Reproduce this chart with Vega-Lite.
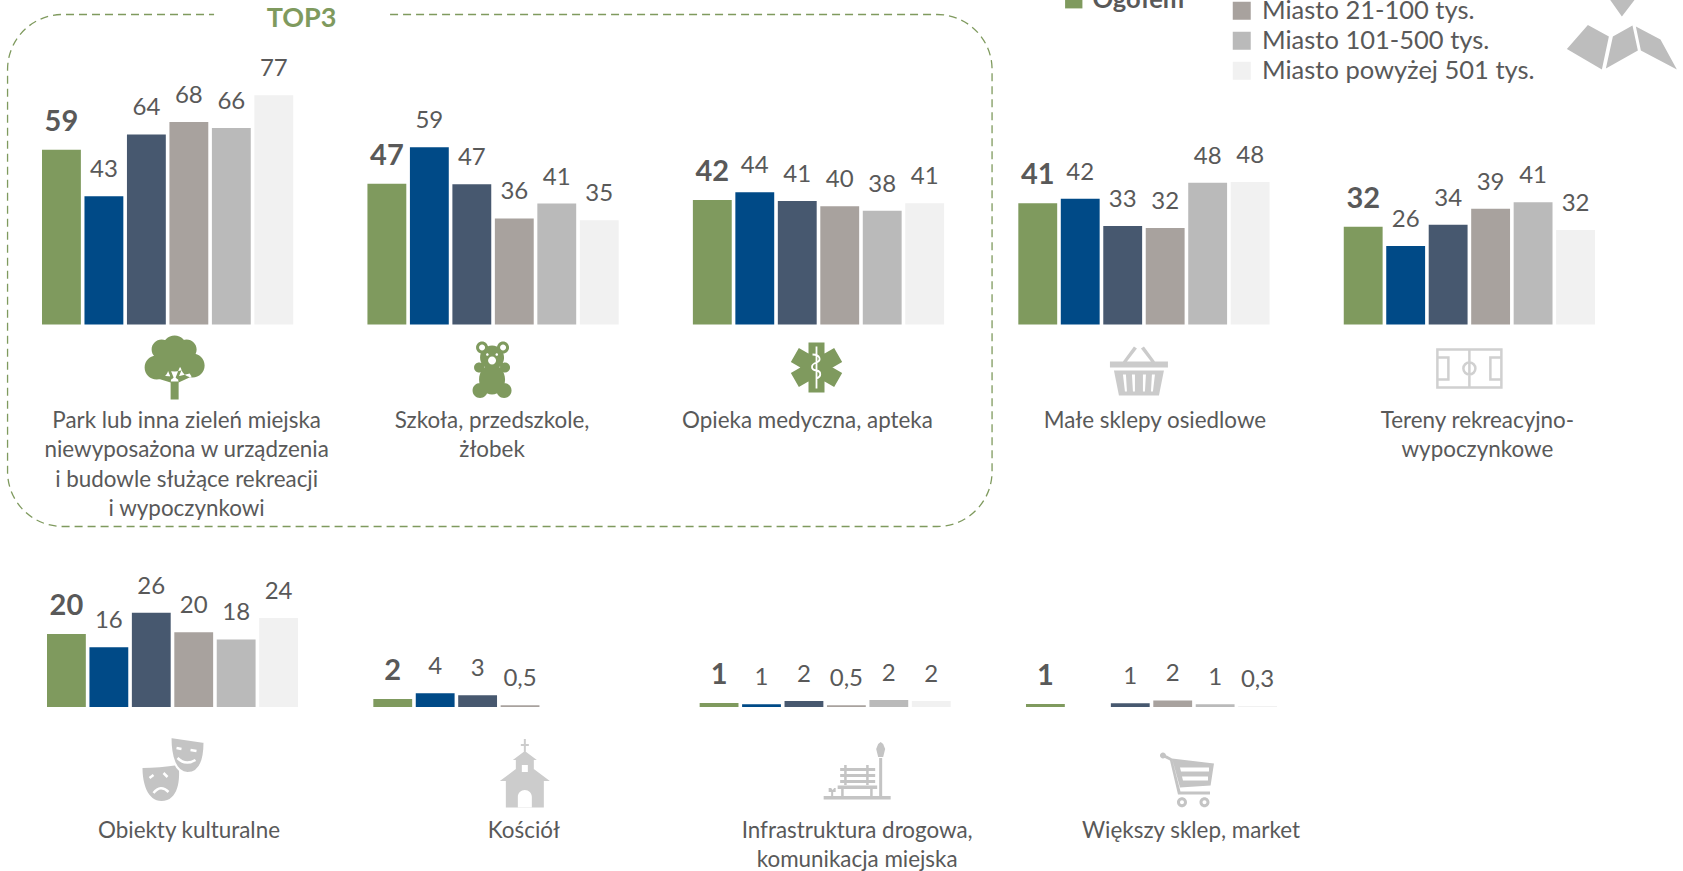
{"$schema":"https://vega.github.io/schema/vega-lite/v6.json","width":1683,"height":871,"autosize":{"type":"none"},"padding":0,"background":"white",
"config":{"view":{"stroke":null},"axis":{"disable":true},"font":"Lato","text":{"font":"Lato"},"legend":{"padding":0}},
"datasets":{"top":[
{"group":"Park","city":"Ogółem","value":58.8,"label":"59"},{"group":"Park","city":"Wieś","value":43.2,"label":"43"},{"group":"Park","city":"Miasto do 20 tys.","value":64,"label":"64"},{"group":"Park","city":"Miasto 21-100 tys.","value":68.2,"label":"68"},{"group":"Park","city":"Miasto 101-500 tys.","value":66.2,"label":"66"},{"group":"Park","city":"Miasto powyżej 501 tys.","value":77.2,"label":"77"},
{"group":"Szkoła","city":"Ogółem","value":47.4,"label":"47"},{"group":"Szkoła","city":"Wieś","value":59.7,"label":"59"},{"group":"Szkoła","city":"Miasto do 20 tys.","value":47.2,"label":"47"},{"group":"Szkoła","city":"Miasto 21-100 tys.","value":35.7,"label":"36"},{"group":"Szkoła","city":"Miasto 101-500 tys.","value":40.7,"label":"41"},{"group":"Szkoła","city":"Miasto powyżej 501 tys.","value":35.1,"label":"35"},
{"group":"Opieka","city":"Ogółem","value":41.9,"label":"42"},{"group":"Opieka","city":"Wieś","value":44.5,"label":"44"},{"group":"Opieka","city":"Miasto do 20 tys.","value":41.6,"label":"41"},{"group":"Opieka","city":"Miasto 21-100 tys.","value":39.8,"label":"40"},{"group":"Opieka","city":"Miasto 101-500 tys.","value":38.3,"label":"38"},{"group":"Opieka","city":"Miasto powyżej 501 tys.","value":40.8,"label":"41"},
{"group":"Sklepy","city":"Ogółem","value":40.8,"label":"41"},{"group":"Sklepy","city":"Wieś","value":42.3,"label":"42"},{"group":"Sklepy","city":"Miasto do 20 tys.","value":33.2,"label":"33"},{"group":"Sklepy","city":"Miasto 21-100 tys.","value":32.5,"label":"32"},{"group":"Sklepy","city":"Miasto 101-500 tys.","value":47.7,"label":"48"},{"group":"Sklepy","city":"Miasto powyżej 501 tys.","value":48,"label":"48"},
{"group":"Tereny","city":"Ogółem","value":32.9,"label":"32"},{"group":"Tereny","city":"Wieś","value":26.4,"label":"26"},{"group":"Tereny","city":"Miasto do 20 tys.","value":33.6,"label":"34"},{"group":"Tereny","city":"Miasto 21-100 tys.","value":39,"label":"39"},{"group":"Tereny","city":"Miasto 101-500 tys.","value":41.2,"label":"41"},{"group":"Tereny","city":"Miasto powyżej 501 tys.","value":31.8,"label":"32"}],
"bottom":[
{"group":"Kultura","city":"Ogółem","value":20,"label":"20"},{"group":"Kultura","city":"Wieś","value":16.4,"label":"16"},{"group":"Kultura","city":"Miasto do 20 tys.","value":25.8,"label":"26"},{"group":"Kultura","city":"Miasto 21-100 tys.","value":20.5,"label":"20"},{"group":"Kultura","city":"Miasto 101-500 tys.","value":18.5,"label":"18"},{"group":"Kultura","city":"Miasto powyżej 501 tys.","value":24.4,"label":"24"},
{"group":"Kościół","city":"Ogółem","value":2.2,"label":"2"},{"group":"Kościół","city":"Wieś","value":3.75,"label":"4"},{"group":"Kościół","city":"Miasto do 20 tys.","value":3.2,"label":"3"},{"group":"Kościół","city":"Miasto 21-100 tys.","value":0.5,"label":"0,5"},
{"group":"Drogi","city":"Ogółem","value":1.1,"label":"1"},{"group":"Drogi","city":"Wieś","value":0.72,"label":"1"},{"group":"Drogi","city":"Miasto do 20 tys.","value":1.63,"label":"2"},{"group":"Drogi","city":"Miasto 21-100 tys.","value":0.45,"label":"0,5"},{"group":"Drogi","city":"Miasto 101-500 tys.","value":1.9,"label":"2"},{"group":"Drogi","city":"Miasto powyżej 501 tys.","value":1.63,"label":"2"},
{"group":"Market","city":"Ogółem","value":0.8,"label":"1"},{"group":"Market","city":"Miasto do 20 tys.","value":1,"label":"1"},{"group":"Market","city":"Miasto 21-100 tys.","value":1.8,"label":"2"},{"group":"Market","city":"Miasto 101-500 tys.","value":0.75,"label":"1"},{"group":"Market","city":"Miasto powyżej 501 tys.","value":0.3,"label":"0,3"}]},
"resolve":{"scale":{"x":"independent","y":"independent","xOffset":"independent"}},
"layer":[
{"encoding":{"x":{"field":"group","type":"nominal","scale":{"domain":["Park","Szkoła","Opieka","Sklepy","Tereny"],"range":[42,1595],"paddingInner":0.228,"paddingOuter":0}},"y":{"field":"value","type":"quantitative","stack":null,"scale":{"domain":[0,77],"nice":false,"range":[324.5,95.8]}}},
"layer":[
{"data":{"name":"top"},"transform":[{"filter":"datum.city !== 'Ogółem'"}],"mark":{"type":"bar"},"encoding":{"xOffset":{"field":"city","type":"nominal","scale":{"domain":["Ogółem","Wieś","Miasto do 20 tys.","Miasto 21-100 tys.","Miasto 101-500 tys.","Miasto powyżej 501 tys."],"paddingInner":0.085,"paddingOuter":0}},"color":{"field":"city","type":"nominal","scale":{"domain":["Wieś","Miasto do 20 tys.","Miasto 21-100 tys.","Miasto 101-500 tys.","Miasto powyżej 501 tys."],"range":["#004A87","#47586F","#A8A29E","#BABABA","#F1F1F1"]},"legend":{"title":null,"orient":"none","legendX":1229,"legendY":-2,"values":["Miasto 21-100 tys.","Miasto 101-500 tys.","Miasto powyżej 501 tys."],"symbolType":"square","symbolSize":324,"symbolStrokeWidth":0,"labelFontSize":25.5,"labelFont":"Lato","labelColor":"#595959","labelOffset":7.5,"rowPadding":3,"labelLimit":400}}}},
{"data":{"name":"top"},"transform":[{"filter":"datum.city === 'Ogółem'"}],"mark":{"type":"bar"},"encoding":{"xOffset":{"field":"city","type":"nominal"},"fill":{"field":"city","type":"nominal","scale":{"domain":["Ogółem"],"range":["#7F9A5E"]},"legend":{"title":null,"orient":"none","legendX":1061,"legendY":-13,"symbolType":"square","symbolSize":300,"symbolStrokeWidth":0,"labelFontSize":25.5,"labelFontWeight":"bold","labelFont":"Lato","labelColor":"#595959","labelOffset":6}}}},
{"data":{"name":"top"},"transform":[{"filter":"datum.city !== 'Ogółem'"}],"mark":{"type":"text","fontSize":24,"color":"#595959","baseline":"middle","dy":-26},"encoding":{"xOffset":{"field":"city","type":"nominal"},"text":{"field":"label"}}},
{"data":{"name":"top"},"transform":[{"filter":"datum.city === 'Ogółem'"}],"mark":{"type":"text","fontSize":29,"fontWeight":"bold","color":"#595959","baseline":"middle","dy":-28},"encoding":{"xOffset":{"field":"city","type":"nominal"},"text":{"field":"label"}}},
{"data":{"values":[{"group":"Szkoła","value":0}]},"mark":{"type":"point","size":4,"filled":false,"opacity":1,"shape":"M-103,-310 L444,-310 A55,55 0 0 1 499,-255 L499,147 A55,55 0 0 1 444,202 L-430.5,202 A55,55 0 0 1 -485.5,147 L-485.5,-255 A55,55 0 0 1 -430.5,-310 L-279,-310","color":"#7F9A5E","strokeWidth":1.3,"strokeDash":[8,5]}},
{"data":{"values":[{"group":"Park","value":0,"label":"TOP3"}]},"mark":{"type":"text","fontSize":27,"fontWeight":"bold","color":"#7F9A5E","baseline":"middle","xOffset":134,"yOffset":-305.5},"encoding":{"text":{"field":"label"}}},
{"data":{"values":[{"group":"Park","value":0,"label":"Park lub inna zieleń miejska\nniewyposażona w urządzenia\ni budowle służące rekreacji\ni wypoczynkowi"}]},"mark":{"type":"text","fontSize":22.4,"color":"#595959","lineBreak":"\n","lineHeight":29.5,"baseline":"alphabetic","xOffset":19,"yOffset":103},"encoding":{"text":{"field":"label"}}},
{"data":{"values":[{"group":"Szkoła","value":0,"label":"Szkoła, przedszkole,\nżłobek"}]},"mark":{"type":"text","fontSize":22.4,"color":"#595959","lineBreak":"\n","lineHeight":29.5,"baseline":"alphabetic","xOffset":-1,"yOffset":103},"encoding":{"text":{"field":"label"}}},
{"data":{"values":[{"group":"Opieka","value":0,"label":"Opieka medyczna, apteka"}]},"mark":{"type":"text","fontSize":22.4,"color":"#595959","baseline":"alphabetic","xOffset":-11,"yOffset":103},"encoding":{"text":{"field":"label"}}},
{"data":{"values":[{"group":"Sklepy","value":0,"label":"Małe sklepy osiedlowe"}]},"mark":{"type":"text","fontSize":22.4,"color":"#595959","baseline":"alphabetic","xOffset":11,"yOffset":103},"encoding":{"text":{"field":"label"}}},
{"data":{"values":[{"group":"Tereny","value":0,"label":"Tereny rekreacyjno-\nwypoczynkowe"}]},"mark":{"type":"text","fontSize":22.4,"color":"#595959","lineBreak":"\n","lineHeight":29.5,"baseline":"alphabetic","xOffset":8,"yOffset":103},"encoding":{"text":{"field":"label"}}},
{"data":{"values":[{"group":"Park","value":0}]},"mark":{"type":"point","size":4,"filled":true,"opacity":1,"color":"#7F9A5E","xOffset":7,"yOffset":43,"shape":"M-12,-20 a12,12 0 1,1 24,0 a12,12 0 1,1 -24,0 Z M-23,-18 a10,10 0 1,1 20,0 a10,10 0 1,1 -20,0 Z M2,-18 a10,10 0 1,1 20,0 a10,10 0 1,1 -20,0 Z M-30,0 a12,12 0 1,1 24,0 a12,12 0 1,1 -24,0 Z M6,-2 a12,12 0 1,1 24,0 a12,12 0 1,1 -24,0 Z M-16,-9 a16,13 0 1,1 32,0 a16,13 0 1,1 -32,0 Z M-4,14 L4,14 L4,32 L-4,32 Z M-4,15 L-17,11 L-15,8 L-3,9 Z M4,15 L17,9 L15,6 L3,9 Z M-3,12 L-8,0 L-5,0 L-1,10 Z M3,12 L8,0 L5,0 L1,10 Z"}},
{"data":{"values":[{"group":"Szkoła","value":0}]},"mark":{"type":"point","size":4,"filled":true,"opacity":1,"color":"#7F9A5E","xOffset":-1,"yOffset":45,"shape":"M-16,-22 a6,6 0 1,1 12,0 a6,6 0 1,1 -12,0 Z M5,-22 a6,6 0 1,1 12,0 a6,6 0 1,1 -12,0 Z M-12,-12 a12,12 0 1,1 24,0 a12,12 0 1,1 -24,0 Z M-13,10 a13,15 0 1,1 26,0 a13,15 0 1,1 -26,0 Z M-18,-2 a5,5 0 1,1 10,0 a5,5 0 1,1 -10,0 Z M8,-2 a5,5 0 1,1 10,0 a5,5 0 1,1 -10,0 Z M-19.5,21 a7.5,7.5 0 1,1 15,0 a7.5,7.5 0 1,1 -15,0 Z M4.5,21 a7.5,7.5 0 1,1 15,0 a7.5,7.5 0 1,1 -15,0 Z"}},
{"data":{"values":[{"group":"Szkoła","value":0}]},"mark":{"type":"point","size":4,"filled":true,"opacity":1,"color":"#FFFFFF","xOffset":-1,"yOffset":45,"shape":"M-4,-9 a4,4 0 1,1 8,0 a4,4 0 1,1 -8,0 Z M-6,-15 a1.3,1.3 0 1,1 2.6,0 a1.3,1.3 0 1,1 -2.6,0 Z M3.4,-15 a1.3,1.3 0 1,1 2.6,0 a1.3,1.3 0 1,1 -2.6,0 Z M-13,-22 a3,3 0 1,1 6,0 a3,3 0 1,1 -6,0 Z M8,-22 a3,3 0 1,1 6,0 a3,3 0 1,1 -6,0 Z"}},
{"data":{"values":[{"group":"Opieka","value":0}]},"mark":{"type":"point","size":4,"filled":true,"opacity":1,"color":"#7F9A5E","xOffset":-2,"yOffset":43,"shape":"M-8,-25 L8,-25 L8,25 L-8,25 Z M25.65,5.57 L17.65,19.43 L-25.65,-5.57 L-17.65,-19.43 Z M17.65,-19.43 L25.65,-5.57 L-17.65,19.43 L-25.65,5.57 Z"}},
{"data":{"values":[{"group":"Opieka","value":0}]},"mark":{"type":"point","size":4,"filled":false,"opacity":1,"color":"#FFFFFF","strokeWidth":1.8,"xOffset":-2,"yOffset":43,"shape":"M0,-21 L0,21 M-4,-13 C4,-13 5,-7 0,-5 C-6,-3 -6,2 0,3 C5,4 5,9 0,11"}},
{"data":{"values":[{"group":"Sklepy","value":0}]},"mark":{"type":"point","size":4,"filled":true,"opacity":1,"color":"#CBCBCB","xOffset":-5,"yOffset":46,"shape":"M-29,-9 L29,-9 L29,-3 L-29,-3 Z M-25,0 L25,0 L20,25 L-20,25 Z M-16,-9 L-5,-24 L-2,-22 L-12,-9 Z M12,-9 L2,-22 L5,-24 L16,-9 Z"}},
{"data":{"values":[{"group":"Sklepy","value":0}]},"mark":{"type":"point","size":4,"filled":true,"opacity":1,"color":"#FFFFFF","xOffset":-5,"yOffset":46,"shape":"M-16,4 L-13,4 L-12,21 L-14,21 Z M-7,4 L-4,4 L-4,21 L-6,21 Z M4,4 L7,4 L6,21 L4,21 Z M13,4 L16,4 L14,21 L12,21 Z"}},
{"data":{"values":[{"group":"Tereny","value":0}]},"mark":{"type":"point","size":4,"filled":false,"opacity":1,"color":"#D0D0D0","strokeWidth":2.5,"yOffset":44,"shape":"M-32,-19 H32 V19 H-32 Z M0,-19 V19 M-6,0 a6,6 0 1,1 12,0 a6,6 0 1,1 -12,0 Z M-32,-11 H-21 V11 H-32 M32,-11 H21 V11 H32"}},
{"data":{"values":[{"group":"Tereny","value":0}]},"mark":{"type":"point","size":4,"filled":true,"opacity":1,"color":"#BDBDBD","xOffset":152.5,"yOffset":-285,"shape":"M-55,9.5 L-34,-14.4 L-13,-3 L-20,30 Z M-16,29 L-9,-3 L10.6,-14 L16,11 Z M14,-13 L38.6,0 L55,30 L19,11 Z M-12,-40 L13,-40 L0,-23 Z"}}
]},
{"encoding":{"x":{"field":"group","type":"nominal","scale":{"domain":["Kultura","Kościół","Drogi","Market"],"range":[47,1277],"paddingInner":0.2308,"paddingOuter":0}},"y":{"field":"value","type":"quantitative","stack":null,"scale":{"domain":[0,26],"nice":false,"range":[707,612.1]}}},
"layer":[
{"data":{"name":"bottom"},"transform":[{"filter":"datum.city !== 'Ogółem'"}],"mark":{"type":"bar"},"encoding":{"xOffset":{"field":"city","type":"nominal","scale":{"domain":["Ogółem","Wieś","Miasto do 20 tys.","Miasto 21-100 tys.","Miasto 101-500 tys.","Miasto powyżej 501 tys."],"paddingInner":0.085,"paddingOuter":0}},"color":{"field":"city","type":"nominal","scale":{"domain":["Wieś","Miasto do 20 tys.","Miasto 21-100 tys.","Miasto 101-500 tys.","Miasto powyżej 501 tys."],"range":["#004A87","#47586F","#A8A29E","#BABABA","#F1F1F1"]},"legend":{"title":null,"orient":"none","legendX":1229,"legendY":-2,"values":["Miasto 21-100 tys.","Miasto 101-500 tys.","Miasto powyżej 501 tys."],"symbolType":"square","symbolSize":324,"symbolStrokeWidth":0,"labelFontSize":25.5,"labelFont":"Lato","labelColor":"#595959","labelOffset":7.5,"rowPadding":3,"labelLimit":400}}}},
{"data":{"name":"bottom"},"transform":[{"filter":"datum.city === 'Ogółem'"}],"mark":{"type":"bar"},"encoding":{"xOffset":{"field":"city","type":"nominal"},"fill":{"field":"city","type":"nominal","scale":{"domain":["Ogółem"],"range":["#7F9A5E"]},"legend":{"title":null,"orient":"none","legendX":1061,"legendY":-13,"symbolType":"square","symbolSize":300,"symbolStrokeWidth":0,"labelFontSize":25.5,"labelFontWeight":"bold","labelFont":"Lato","labelColor":"#595959","labelOffset":6}}}},
{"data":{"name":"bottom"},"transform":[{"filter":"datum.city !== 'Ogółem'"}],"mark":{"type":"text","fontSize":24,"color":"#595959","baseline":"middle","dy":-26},"encoding":{"xOffset":{"field":"city","type":"nominal"},"text":{"field":"label"}}},
{"data":{"name":"bottom"},"transform":[{"filter":"datum.city === 'Ogółem'"}],"mark":{"type":"text","fontSize":29,"fontWeight":"bold","color":"#595959","baseline":"middle","dy":-28},"encoding":{"xOffset":{"field":"city","type":"nominal"},"text":{"field":"label"}}},
{"data":{"values":[{"group":"Kultura","value":0,"label":"Obiekty kulturalne"}]},"mark":{"type":"text","fontSize":22.4,"color":"#595959","baseline":"alphabetic","xOffset":16.5,"yOffset":130.5},"encoding":{"text":{"field":"label"}}},
{"data":{"values":[{"group":"Kościół","value":0,"label":"Kościół"}]},"mark":{"type":"text","fontSize":22.4,"color":"#595959","baseline":"alphabetic","xOffset":25,"yOffset":130.5},"encoding":{"text":{"field":"label"}}},
{"data":{"values":[{"group":"Drogi","value":0,"label":"Infrastruktura drogowa,\nkomunikacja miejska"}]},"mark":{"type":"text","fontSize":22.4,"color":"#595959","lineBreak":"\n","lineHeight":29.5,"baseline":"alphabetic","xOffset":32,"yOffset":130.5},"encoding":{"text":{"field":"label"}}},
{"data":{"values":[{"group":"Market","value":0,"label":"Większy sklep, market"}]},"mark":{"type":"text","fontSize":22.4,"color":"#595959","baseline":"alphabetic","xOffset":39.5,"yOffset":130.5},"encoding":{"text":{"field":"label"}}},
{"data":{"values":[{"group":"Kultura","value":0}]},"mark":{"type":"point","size":4,"filled":true,"opacity":1,"color":"#C4C4C4","xOffset":1,"yOffset":62,"shape":"M-31,-1 C-20,-1 -8,-2 5,-4 C7,10 5,32 -12,32 C-26,32 -31,14 -31,-1 Z"}},
{"data":{"values":[{"group":"Kultura","value":0}]},"mark":{"type":"point","size":4,"filled":true,"opacity":1,"fill":"#C4C4C4","stroke":"#FFFFFF","strokeWidth":2,"xOffset":1,"yOffset":62,"shape":"M-3,-32 L31,-27 C31,-12 28,4 14,4 C2,4 -3,-12 -3,-32 Z"}},
{"data":{"values":[{"group":"Kultura","value":0}]},"mark":{"type":"point","size":4,"filled":false,"opacity":1,"color":"#FFFFFF","strokeWidth":2.5,"xOffset":1,"yOffset":62,"shape":"M3,-21 L8,-20 M17,-19 L23,-18 M4,-11 Q12,-3 22,-9 M-24,9 L-20,6 M-10,4 L-6,8 M-20,24 Q-13,15 -5,23"}},
{"data":{"values":[{"group":"Kościół","value":0}]},"mark":{"type":"point","size":4,"filled":true,"opacity":1,"color":"#CCCCCC","xOffset":26,"yOffset":66,"shape":"M-1,-34 H1 V-29 H4 V-27 H1 V-21 H-1 V-27 H-4 V-29 H-1 Z M-12,-13 L0,-22 L12,-13 Z M-9,-13 H9 V8 H-9 Z M-25,8 L-9,-4 L9,-4 L25,8 Z M-19,8 H19 V34.5 H-19 Z"}},
{"data":{"values":[{"group":"Kościół","value":0}]},"mark":{"type":"point","size":4,"filled":true,"opacity":1,"color":"#FFFFFF","xOffset":26,"yOffset":66,"shape":"M-3,-8 H3 V-1 H-3 Z M-7,24 A7,7 0 0 1 7,24 V34.5 H-7 Z"}},
{"data":{"values":[{"group":"Drogi","value":0}]},"mark":{"type":"point","size":4,"filled":true,"opacity":1,"color":"#C4C4C4","xOffset":32,"yOffset":64,"shape":"M-33.5,25 H33.5 V28.5 H-33.5 Z M22,-13 H25 V25 H22 Z M21,-27 L23.5,-29 L26,-27 L28,-22 L26,-14 H21 L19,-22 Z M-17,-3 H18 V0 H-17 Z M-17,3 H18 V6 H-17 Z M-17,9 H18 V12 H-17 Z M-13,-6 H-10.5 V14 H-13 Z M9,-6 H11.5 V14 H9 Z M-19.5,14.5 H20 V18 H-19.5 Z M-16,18 H-13.5 V25 H-16 Z M13,18 H15.5 V25 H13 Z M-26,17 L-24.5,19 L-23,17 L-21.5,17 L-21.5,21 H-24 V25 H-26 V21 H-28.5 V17 Z"}},
{"data":{"values":[{"group":"Market","value":0}]},"mark":{"type":"point","size":4,"filled":true,"opacity":1,"color":"#C4C4C4","xOffset":35.5,"yOffset":74.5,"shape":"M-15,-23 L27,-18 L23.6,4 L-7,6 Z M-27,-26 a3,3 0 1,1 6,0 a3,3 0 1,1 -6,0 Z M-22,-27 L-15,-23 L-6,12 L-9,13 L-17,-21 L-23,-24 Z M-9,10 H23 V13 H-9 Z M-10,20.7 a5,5 0 1,1 10,0 a5,5 0 1,1 -10,0 Z M12.5,20.7 a5,5 0 1,1 10,0 a5,5 0 1,1 -10,0 Z"}},
{"data":{"values":[{"group":"Market","value":0}]},"mark":{"type":"point","size":4,"filled":true,"opacity":1,"color":"#FFFFFF","xOffset":35.5,"yOffset":74.5,"shape":"M-7,-14 H22 V-10 H-6 Z M-5,-5 H21 V-1 H-4 Z M-7,20.7 a2,2 0 1,1 4,0 a2,2 0 1,1 -4,0 Z M15.5,20.7 a2,2 0 1,1 4,0 a2,2 0 1,1 -4,0 Z"}}
]}
]}
